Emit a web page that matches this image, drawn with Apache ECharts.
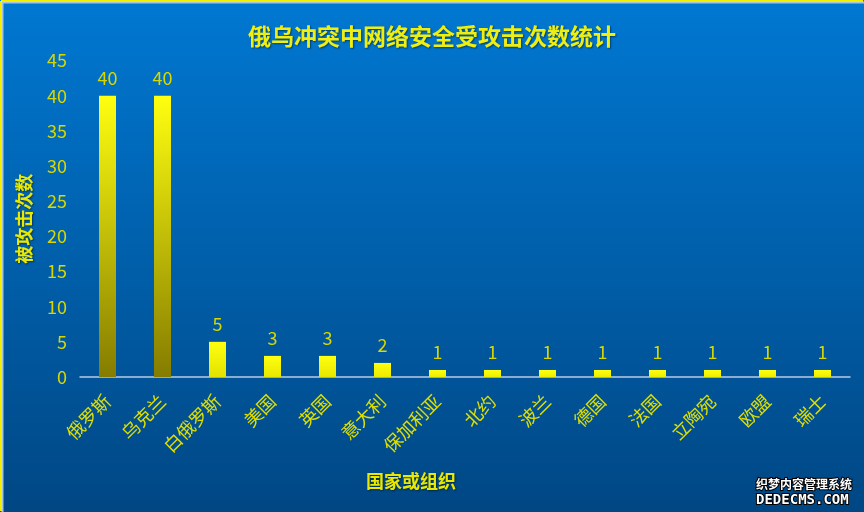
<!DOCTYPE html>
<html><head><meta charset="utf-8">
<script src="https://cdn.jsdelivr.net/npm/echarts@6/dist/echarts.min.js"></script>
<style>html,body{margin:0;padding:0;background:#0060b0}#c{width:864px;height:512px}</style>
</head><body><div id="c"></div>
<script>
const titleText = '俄乌冲突中网络安全受攻击次数统计';
const categories = ['俄罗斯','乌克兰','白俄罗斯','美国','英国','意大利','保加利亚','北约','波兰','德国','法国','立陶宛','欧盟','瑞士'];
const attacks = [40,40,5,3,3,2,1,1,1,1,1,1,1,1];
const yTicks = [0,5,10,15,20,25,30,35,40,45];
const yName = '被攻击次数';
const xName = '国家或组织';

const font = '"Noto Sans CJK SC", "Noto Sans", sans-serif';
const chart = echarts.init(document.getElementById('c'));

function mix(a, b, t) {
  const pa = [parseInt(a.slice(1,3),16), parseInt(a.slice(3,5),16), parseInt(a.slice(5,7),16)];
  const pb = [parseInt(b.slice(1,3),16), parseInt(b.slice(3,5),16), parseInt(b.slice(5,7),16)];
  return 'rgb(' + pa.map((v,i)=>Math.round(v+(pb[i]-v)*t)).join(',') + ')';
}
const shadow = {textShadowColor: 'rgba(0,0,0,0.45)', textShadowBlur: 2, textShadowOffsetX: 1, textShadowOffsetY: 1};

chart.setOption({
  backgroundColor: new echarts.graphic.LinearGradient(0,0,0,1,[
    {offset:0,color:'#0078d2'},{offset:1,color:'#004784'}
  ]),
  title: {
    text: titleText, left: 'center', top: 20,
    textStyle: Object.assign({fontFamily: font, fontSize: 23, fontWeight: 'bold', color: '#eeee10'}, shadow)
  },
  grid: {left: 80, right: 14, top: 60.5, bottom: 135},
  xAxis: {
    type: 'category', data: categories,
    name: xName, nameLocation: 'middle', nameGap: 95,
    nameTextStyle: Object.assign({fontFamily: font, fontSize: 18, fontWeight: 'bold', color: '#e8e800', padding: [0, 108, 0, 0]}, shadow),
    axisLine: {lineStyle: {color: '#b8cce4', width: 1.5}},
    axisTick: {show: false},
    axisLabel: {rotate: 45, interval: 0, margin: 21, fontFamily: font, fontSize: 18, color: '#e0e000'}
  },
  yAxis: {
    type: 'value', min: 0, max: 45, interval: 5,
    name: yName, nameLocation: 'middle', nameGap: 47, nameRotate: 90,
    nameTextStyle: Object.assign({fontFamily: font, fontSize: 18, fontWeight: 'bold', color: '#e8e800'}, shadow),
    axisLine: {show: false}, axisTick: {show: false}, splitLine: {show: false},
    axisLabel: {fontFamily: font, fontSize: 18, color: '#d8d800', margin: 13,
      formatter: v => yTicks.includes(v) ? String(v) : ''}
  },
  series: [{
    type: 'bar', barWidth: 17,
    data: attacks.map(v => ({
      value: v,
      itemStyle: {color: new echarts.graphic.LinearGradient(0,0,0,1,[
        {offset:0,color:'#ffff10'},{offset:1,color: mix('#f0f000','#857c00', v/40)}
      ])}
    })),
    label: {show: true, position: 'top', distance: 9, fontFamily: font, fontSize: 18, color: '#d8d800'}
  }],
  graphic: [
    {type:'rect', left:0, top:0, shape:{width:863, height:511}, style:{fill:'none', stroke:'#a8c4e4', lineWidth:2}},
    {type:'line', shape:{x1:1,y1:1,x2:863,y2:1}, style:{stroke:'#f0f000', lineWidth:2}},
    {type:'line', shape:{x1:1,y1:1,x2:1,y2:511}, style:{stroke:'#f0f000', lineWidth:2}},
    {type:'text', left: 755, top: 477, style:{text:'织梦内容管理系统', font:'bold 12px "Noto Sans CJK SC"', fill:'#ffffff', stroke:'#000000', lineWidth:2}},
    {type:'text', left: 755, top: 492, style:{text:'DEDECMS.COM', font:'bold 14px "DejaVu Sans Mono"', fill:'#ffffff', stroke:'#000000', lineWidth:2}}
  ]
});
</script></body></html>
